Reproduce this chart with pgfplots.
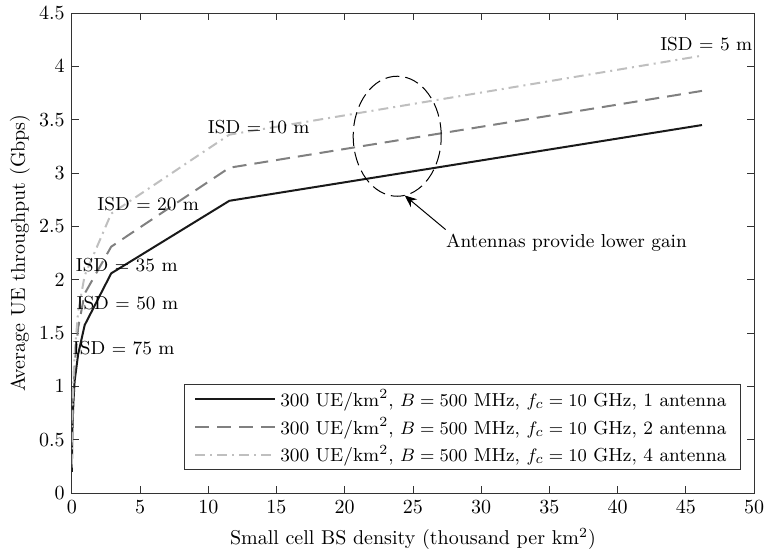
\documentclass[border=0pt]{standalone}
\usepackage{pgfplots}
\pgfplotsset{compat=1.18}
\usetikzlibrary{arrows.meta}

% x: small cell density (thousand per km^2) for ISD = 500,300,200,150,100,75,50,35,20,10,5 m
\pgfplotstableread{
x       one    two    four
0.0046  0.20   0.24   0.27
0.0128  0.32   0.38   0.43
0.0289  0.48   0.56   0.63
0.0513  0.62   0.72   0.80
0.1155  0.85   0.98   1.08
0.2053  1.05   1.20   1.30
0.4619  1.30   1.55   1.70
0.9426  1.575  1.87   2.04
2.8868  2.06   2.31   2.62
11.547  2.74   3.05   3.36
46.188  3.45   3.77   4.10
}\isddata

\begin{document}
\begin{tikzpicture}
\begin{axis}[
  at={(0,0)}, anchor=south west, scale only axis,
  width=341pt, height=240pt,
  xmin=0, xmax=50, ymin=0, ymax=4.5,
  xtick={0,5,...,50}, ytick={0,0.5,...,4.5},
  tick align=inside, major tick length=3.5pt,
  axis line style={draw=black!80}, every tick/.style={black!80},
  tick label style={font=\fontsize{10}{12}\selectfont},
  xlabel={Small cell BS density (thousand per km$^2$)},
  ylabel={Average UE throughput (Gbps)},
  label style={font=\fontsize{10}{12}\selectfont},
  xlabel style={at={(axis description cs:0.5,-0.096)}, anchor=center},
  ylabel style={at={(axis description cs:-0.076,0.5)}, anchor=center},
  legend style={at={(0.981,0.048)}, anchor=south east, draw=black!80, fill=white,
    font=\fontsize{9.4}{11}\selectfont, inner xsep=5pt, inner ysep=0.5pt,
    cells={anchor=west}},
  legend image code/.code={\draw[#1] (0pt,0pt) -- (40pt,0pt);},
]
\addplot[draw=black!90, line width=1pt] table[x=x, y=one] {\isddata};
\addlegendentry{300 UE/km$^2$, $B = 500$ MHz, $f_c = 10$ GHz, 1 antenna}
\addplot[draw=black!50, line width=1pt, dash pattern=on 7pt off 4pt] table[x=x, y=two] {\isddata};
\addlegendentry{300 UE/km$^2$, $B = 500$ MHz, $f_c = 10$ GHz, 2 antenna}
\addplot[draw=black!25, line width=1pt, dash pattern=on 5pt off 2.5pt on 1pt off 2.5pt] table[x=x, y=four] {\isddata};
\addlegendentry{300 UE/km$^2$, $B = 500$ MHz, $f_c = 10$ GHz, 4 antenna}

\begin{scope}[font=\fontsize{9.4}{11}\selectfont, inner sep=0pt]
\node at (axis cs:46.5,4.21) {ISD $=$ 5 m};
\node at (axis cs:13.7,3.43) {ISD $=$ 10 m};
\node at (axis cs:5.6,2.71) {ISD $=$ 20 m};
\node at (axis cs:4.03,2.14) {ISD $=$ 35 m};
\node at (axis cs:4.07,1.78) {ISD $=$ 50 m};
\node at (axis cs:3.8,1.36) {ISD $=$ 75 m};
\node[anchor=west] at (axis cs:27.4,2.35) {Antennas provide lower gain};
\end{scope}
\draw[black, line width=0.5pt, dash pattern=on 7pt off 3pt] (axis cs:23.85,3.345) ellipse [x radius=22pt, y radius=30pt];
\draw[black, line width=0.5pt, -{Stealth[length=6pt, width=5pt]}] (axis cs:27.4,2.47) -- (axis cs:24.4,2.79);
\end{axis}
\pgfresetboundingbox
\path[use as bounding box] (-35.9pt,-29.5pt) rectangle (346pt,246.5pt);
\end{tikzpicture}
\end{document}
